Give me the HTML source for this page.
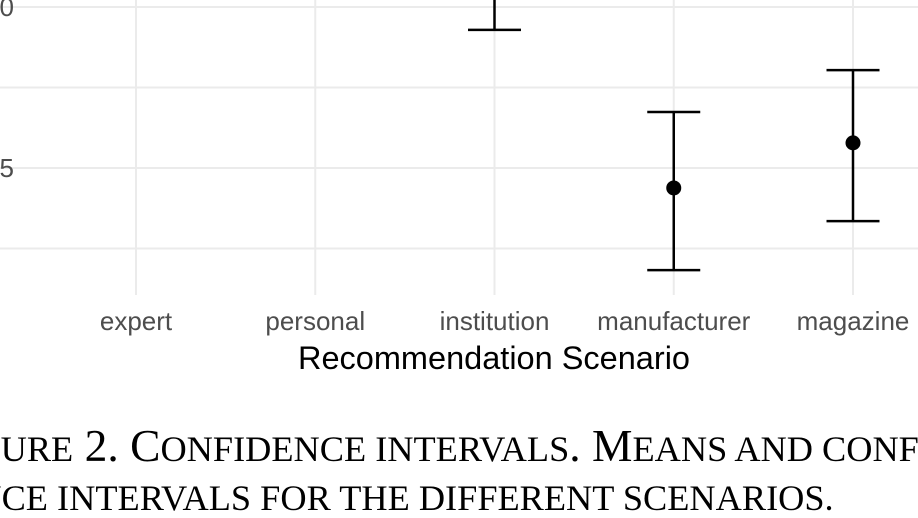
<!DOCTYPE html>
<html><head><meta charset="utf-8"><style>
html,body{margin:0;padding:0;background:#fff;width:918px;height:517px;overflow:hidden}
svg{position:absolute;left:0;top:0}
.cap{position:absolute;font-family:"Liberation Serif",serif;font-size:45.5px;color:#000;white-space:nowrap;line-height:1}
.cap s{text-decoration:none;font-size:36.3px}
</style></head><body>
<svg width="918" height="400">
<g id="grid"></g>
<g id="ylab"></g>
<g id="xlab"></g>
<g id="marks"></g>
<text x="494" y="369" text-anchor="middle" font-family="Liberation Sans, sans-serif" font-size="32.5" fill="#000">Recommendation Scenario</text>
</svg>
<div class="cap" style="left:-63px;top:423px">F<s>IGURE</s> 2. C<s>ONFIDENCE INTERVALS</s>. M<s>EANS AND CONFI-</s></div>
<div class="cap" style="left:-73px;top:472px"><s>DENCE INTERVALS FOR THE DIFFERENT SCENARIOS.</s></div>
<script>
const categories=["expert","personal","institution","manufacturer","magazine"];
const means=[null,null,4.1,3.438,3.578];
const lows=[null,null,3.929,3.183,3.335];
const highs=[null,null,4.3,3.674,3.804];
const yTicks=[3.25,3.5,3.75,4.0];
const yTickLabels=["","3.5","","4.0"];
const NS="http://www.w3.org/2000/svg";
function x(i){return 136+i*179.25;}
function y(v){return 168-(v-3.5)*322;}
function mk(t,a,p){const e=document.createElementNS(NS,t);for(const k in a)e.setAttribute(k,a[k]);p.appendChild(e);return e;}
const g=document.getElementById('grid'),yl=document.getElementById('ylab'),xl=document.getElementById('xlab'),m=document.getElementById('marks');
yTicks.forEach((v,i)=>{
 const l=mk('line',{x1:0,x2:918,y1:y(v),y2:y(v),stroke:'#ebebeb','stroke-width':2},g);
 
 
 if(yTickLabels[i]){const t=mk('text',{x:14,y:y(v)+9,'text-anchor':'end','font-family':'Liberation Sans, sans-serif','font-size':26,fill:'#4d4d4d'},yl);t.textContent=yTickLabels[i];
 
 }
});
categories.forEach((c,i)=>{
 const l=mk('line',{x1:x(i),x2:x(i),y1:0,y2:295,stroke:'#ebebeb','stroke-width':2},g);
 
 
 const t=mk('text',{x:x(i),y:330,'text-anchor':'middle','font-family':'Liberation Sans, sans-serif','font-size':26,fill:'#4d4d4d'},xl);t.textContent=c;
 
 
 if(means[i]===null)return;
 const grp=mk('g',{},m);
 
 
 const hw=26.5;
 mk('line',{x1:x(i),x2:x(i),y1:y(highs[i]),y2:y(lows[i]),stroke:'#000','stroke-width':2.5},grp);
 mk('line',{x1:x(i)-hw,x2:x(i)+hw,y1:y(highs[i]),y2:y(highs[i]),stroke:'#000','stroke-width':2.5},grp);
 mk('line',{x1:x(i)-hw,x2:x(i)+hw,y1:y(lows[i]),y2:y(lows[i]),stroke:'#000','stroke-width':2.5},grp);
 const p=mk('circle',{cx:x(i),cy:y(means[i]),r:7.5,fill:'#000'},grp);
 
 
});
</script>
</body></html>
